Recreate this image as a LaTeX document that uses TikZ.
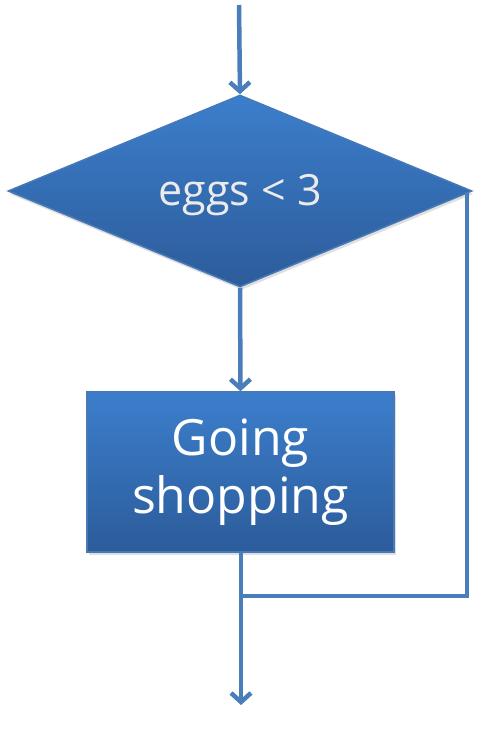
\documentclass[tikz,border=0pt]{standalone}
\usepackage{fontspec}
\setmainfont{Open Sans}
\usetikzlibrary{shapes.geometric,arrows.meta,shadows}
\definecolor{linec}{HTML}{4A7EBB}
\definecolor{topc}{HTML}{3C7ECC}
\definecolor{botc}{HTML}{2C5C9A}
\definecolor{edgec}{HTML}{4779B8}
\tikzset{
  conn/.style={draw=linec, line width=4.5pt, -{Straight Barb[length=9pt,width=20pt,line width=4.5pt]}},
  plain/.style={draw=linec, line width=4.5pt, line join=miter},
  shapefill/.style={top color=topc, bottom color=botc, draw=edgec, line width=1.5pt,
     drop shadow={opacity=0.25, shadow xshift=1.5pt, shadow yshift=-3pt}},
}
\begin{document}
\begin{tikzpicture}[x=1pt,y=-1pt]
\useasboundingbox (0,0) rectangle (482,734);
\coordinate (start) at (239,5);
\node[diamond, shapefill, inner sep=0pt, aspect=2.42, minimum width=464pt, minimum height=192pt] (dec) at (240,191) {};
\node[text=white!92!black, font=\fontsize{43}{48}\selectfont, inner sep=0pt] (declabel) at (240,195) {eggs < 3};
\node[rectangle, shapefill, inner sep=0pt, minimum width=307pt, minimum height=160pt,
  text=white, align=center, font=\fontsize{50}{58}\selectfont] (act) at (240.5,472) {Going\\shopping};
\coordinate (r1) at (467,192);
\coordinate (r2) at (467,596);
\coordinate (join) at (241,596);
\coordinate (endp) at (241,705);
\draw[conn] (start) -- (dec.north);
\draw[conn] (dec.south) -- (act.north);
\draw[plain] (r1) -- (r2) -- (join);
\draw[conn] (act.south -| join) -- (endp);
\end{tikzpicture}
\end{document}
